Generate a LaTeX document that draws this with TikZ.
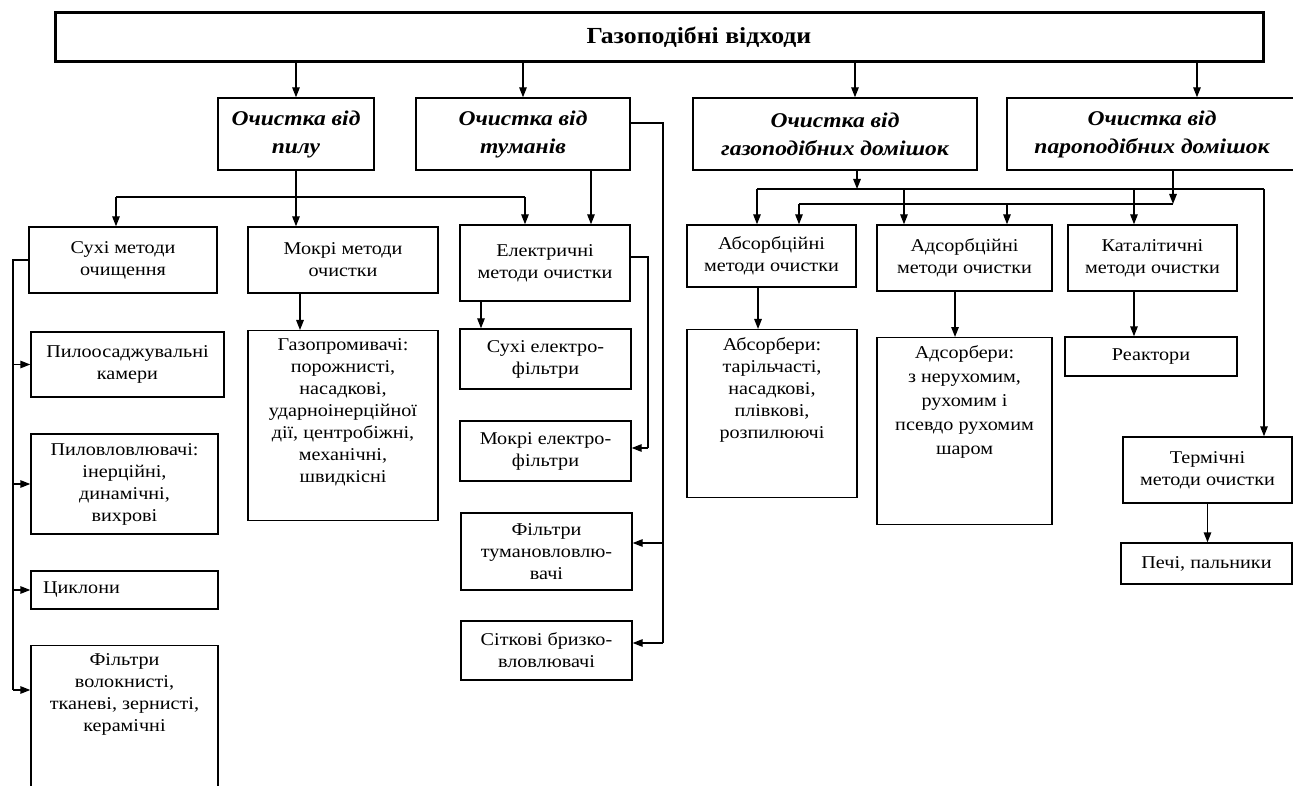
\documentclass[tikz,border=0pt]{standalone}
\usepackage{fontspec}
\setmainfont{Liberation Serif}[FakeStretch=1.12]
\usetikzlibrary{arrows.meta}
\newcommand\boxfont{\fontsize{18}{22}\selectfont}
\newcommand\headfont{\fontsize{21}{28}\selectfont\bfseries\itshape}
\newcommand\titlefont{\fontsize{23}{28}\selectfont\bfseries}
\newcommand\toptext[2]{\parbox[c][#1][t]{160pt}{\centering #2}}

\begin{document}
\begin{tikzpicture}[x=1pt, y=-1pt, line width=1.4pt, font=\boxfont,
  box/.style={draw, align=center, inner sep=4pt},
  head/.style={box, font=\headfont, minimum height=72pt},
  tall/.style={box, anchor=north, inner ysep=8pt},
  arr/.style={-{Triangle[length=10pt,width=7.5pt]}}]
  \useasboundingbox (0,0) rectangle (1293,786);
  % top box
  \node[draw, line width=3pt, minimum width=1208pt, minimum height=49pt,
        label={[font=\titlefont, xshift=40pt]center:Газоподібні відходи}] (gas) at (659,37.5) {};
  % kinds of cleaning
  \node[head, minimum width=156pt] (pylu) at (296,134) {Очистка від\\пилу};
  \node[head, minimum width=214pt] (tuman) at (523,134) {Очистка від\\туманів};
  \node[head, minimum width=284pt] (gazd) at (835,134) {Очистка від\\газоподібних домішок};
  \node[head, minimum width=290pt] (parod) at (1152,134) {Очистка від\\пароподібних домішок};
  \foreach \n/\x in {pylu/296, tuman/523, gazd/855, parod/1197}{
    \coordinate (t\n) at (\x,0);
    \draw[arr] (gas.south -| t\n) -- (t\n |- \n.north);
  }
  % methods
  \node[box, minimum width=188pt, minimum height=66pt] (suhi) at (123,260) {Сухі методи\\очищення};
  \node[box, minimum width=190pt, minimum height=66pt] (mokri) at (343,260) {Мокрі методи\\очистки};
  \node[box, minimum width=170pt, minimum height=76pt] (elek) at (545,263) {Електричні\\методи очистки};
  \node[box, minimum width=169pt, minimum height=62pt] (absc) at (771.5,256) {Абсорбційні\\методи очистки};
  \node[box, minimum width=175pt, minimum height=66pt] (adsc) at (964.5,258) {Адсорбційні\\методи очистки};
  \node[box, minimum width=169pt, minimum height=66pt] (katal) at (1152.5,258) {Каталітичні\\методи очистки};
  % dust bus
  \coordinate (pl) at (116,197);
  \coordinate (pj) at (296,197);
  \coordinate (pr) at (525,197);
  \draw (pylu.south) -- (pj);
  \draw (pl) -- (pr);
  \foreach \j/\n in {pl/suhi, pj/mokri, pr/elek}
    \draw[arr] (\j) -- (\j |- \n.north);
  \coordinate (tm) at (591,0);
  \draw[arr] (tuman.south -| tm) -- (tm |- elek.north);
  % gas and vapour buses
  \coordinate (gj) at (857,189);
  \coordinate (g1) at (757,189);
  \coordinate (g2) at (904,189);
  \coordinate (g3) at (1134,189);
  \coordinate (g4) at (1264,189);
  \coordinate (v1) at (799,204);
  \coordinate (v2) at (1007,204);
  \coordinate (v3) at (1173,204);
  \draw[arr] (gazd.south -| gj) -- (gj);
  \draw[arr] (parod.south -| v3) -- (v3);
  \draw (g1) -- (g4);
  \draw (v1) -- (v3);
  % dry devices
  \node[box, minimum width=193pt, minimum height=65pt] (pilo) at (127.5,364.5) {Пилоосаджувальні\\камери};
  \node[box, minimum width=187pt, minimum height=100pt] (pilov) at (124.5,484) {Пиловловлювачі:\\інерційні,\\динамічні,\\вихрові};
  \node[box, minimum width=187pt, minimum height=38pt, align=left, text width=163pt, inner xsep=12pt] (cykl) at (124.5,590) {Циклони};
  \node[tall, minimum width=187pt] (filt) at (124.5,645) {\toptext{131pt}{Фільтри\\волокнисті,\\тканеві, зернисті,\\керамічні}};
  \coordinate (lj) at (13,690);
  \draw (suhi.west) -| (lj);
  \foreach \n in {pilo, pilov, cykl}
    \draw[arr] (lj |- \n.west) -- (\n.west);
  \draw[arr] (lj) -- (lj -| filt.west);
  % wet devices
  \node[tall, minimum width=190pt] (gazopr) at (343,330) {\toptext{174pt}{Газопромивачі:\\порожнисті,\\насадкові,\\ударноінерційної\\дії, центробіжні,\\механічні,\\швидкісні}};
  \draw[arr] ([xshift=-43pt]mokri.south) -- ([xshift=-43pt]gazopr.north);
  % electric devices
  \node[box, minimum width=171pt, minimum height=60pt] (suhiel) at (545.5,359) {Сухі електро-\\фільтри};
  \node[box, minimum width=171pt, minimum height=60pt] (mokriel) at (545.5,451) {Мокрі електро-\\фільтри};
  \node[box, minimum width=171pt, minimum height=77pt] (filtum) at (546.5,551.5) {Фільтри\\тумановловлю-\\вачі};
  \node[box, minimum width=171pt, minimum height=59pt] (sitk) at (546.5,650.5) {Сіткові бризко-\\вловлювачі};
  \draw[arr] ([xshift=-64pt]elek.south) -- ([xshift=-64.5pt]suhiel.north);
  \coordinate (ej) at (648,448);
  \draw ([yshift=6pt]elek.east) -| (ej);
  \draw[arr] (ej) -- (ej -| mokriel.east);
  \coordinate (tj) at (663,643);
  \coordinate (tf) at (663,543);
  \draw ([yshift=11pt]tuman.east) -| (tj);
  \draw[arr] (tf) -- (tf -| filtum.east);
  \draw[arr] (tj) -- (tj -| sitk.east);
  % absorbers, adsorbers, reactors
  \node[tall, minimum width=170pt] (absorb) at (772,329) {\toptext{152pt}{Абсорбери:\\тарільчасті,\\насадкові,\\плівкові,\\розпилюючі}};
  \node[tall, minimum width=175pt, font=\fontsize{18}{24}\selectfont] (adsorb) at (964.5,337) {\toptext{171pt}{Адсорбери:\\з нерухомим,\\рухомим і\\псевдо рухомим\\шаром}};
  \node[box, minimum width=172pt, minimum height=39pt] (reakt) at (1151,356.5) {Реактори};
  \node[box, minimum width=169pt, minimum height=66pt] (term) at (1207.5,470) {Термічні\\методи очистки};
  \node[box, minimum width=171pt, minimum height=41pt] (pechi) at (1206.5,563.5) {Печі, пальники};
  \foreach \j/\n in {g1/absc, g2/adsc, g3/katal, g4/term, v1/absc, v2/adsc}
    \draw[arr] (\j) -- (\j |- \n.north);
  \draw[arr] ([xshift=-13.5pt]absc.south) -- ([xshift=-14pt]absorb.north);
  \draw[arr] ([xshift=-9.5pt]adsc.south) -- ([xshift=-9.5pt]adsorb.north);
  \draw[arr] ([xshift=-18.5pt]katal.south) -- ([xshift=-17pt]reakt.north);
  \draw[arr] (term.south) -- (term.south |- pechi.north);
\end{tikzpicture}
\end{document}
